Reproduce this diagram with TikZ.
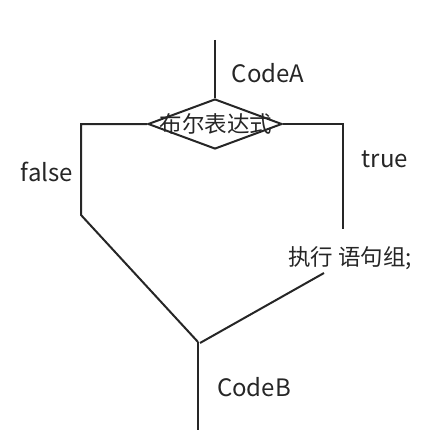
\documentclass[tikz,border=0pt]{standalone}
\usepackage{fontspec}
\setmainfont{Noto Sans CJK SC}
\usetikzlibrary{shapes.geometric}
\begin{document}
\begin{tikzpicture}[x=1pt,y=-1pt,
  flow/.style={line width=2pt,black!85},
  lbl/.style={inner sep=0pt,font=\fontsize{24}{28}\selectfont,text=black!85},
  cjk/.style={lbl,font=\fontsize{22.5}{27}\selectfont},
  dia/.style={diamond,draw,line width=2pt,black!85,minimum width=134pt,minimum height=50pt,inner sep=0pt,aspect=2.68}]
\useasboundingbox (0,0) rectangle (433,441);
\coordinate (top) at (215,40);
\node[dia] (cond) at (215,124) {};
\node[cjk] (condtxt) at (216,124) {布尔表达式};
\coordinate (lc) at (81,124);
\coordinate (lb) at (81,215);
\coordinate (rc) at (343,124);
\coordinate (rb) at (343,229);
\coordinate (join) at (198,342);
\coordinate (rjoin) at (200,343);
\coordinate (rend) at (324,273);
\coordinate (bot) at (198,430);
\draw[flow] (top) -- (cond.north);
\draw[flow] (cond.west) -- (lc) -- (lb) -- (join);
\draw[flow] (cond.east) -- (rc) -- (rb);
\draw[flow] (rjoin) -- (rend);
\draw[flow] (join) -- (bot);
\node[lbl] (codea) at (268,73) {CodeA};
\node[lbl] (false) at (47,172) {false};
\node[lbl] (true) at (385,159) {true};
\node[cjk] (exec) at (350,258) {执行 语句组;};
\node[lbl] (codeb) at (254,387) {CodeB};
\end{tikzpicture}
\end{document}
